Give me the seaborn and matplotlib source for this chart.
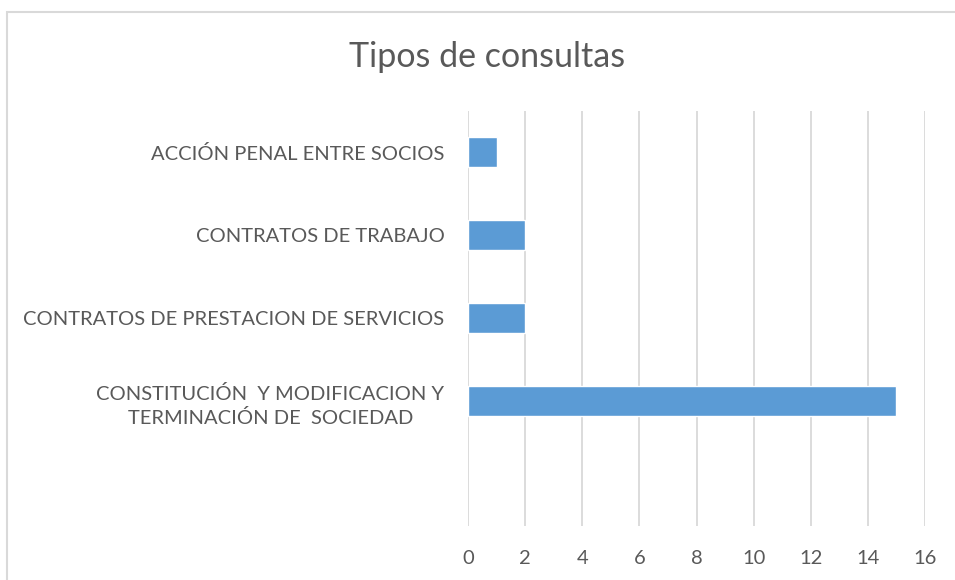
import matplotlib
matplotlib.use("Agg")
import matplotlib.pyplot as plt
import seaborn as sns
import pandas as pd
from matplotlib.patches import Rectangle

# Data (top to bottom), last slot is empty in the original
categorias = [
    "ACCIÓN PENAL ENTRE SOCIOS",
    "CONTRATOS DE TRABAJO",
    "CONTRATOS DE PRESTACION DE SERVICIOS",
    "CONSTITUCIÓN  Y MODIFICACION Y\nTERMINACIÓN DE  SOCIEDAD",
    " ",
]
valores = [1, 2, 2, 15, None]
x_ticks = [0, 2, 4, 6, 8, 10, 12, 14, 16]

sns.set_theme(style="white")
plt.rcParams['font.family'] = ['Lato', 'DejaVu Sans']

df = pd.DataFrame({"tipo": categorias, "n": valores})

fig = plt.figure(figsize=(9.55, 5.8), dpi=100)
ax = fig.add_axes([468 / 955, 1 - 525.5 / 580, (925 - 468) / 955, (525.5 - 110.5) / 580])

sns.barplot(data=df, x="n", y="tipo", order=categorias, orient="h",
            color="#5B9BD5", saturation=1, width=0.36, ax=ax)

ax.set_xlim(0, 16)
ax.set_xticks(x_ticks)
ax.set_xticklabels([str(t) for t in x_ticks])
ax.grid(axis="x", color="#D9D9D9", linewidth=1.3)
ax.set_axisbelow(True)
for s in ax.spines.values():
    s.set_visible(False)
ax.set_xlabel("")
ax.set_ylabel("")
ax.tick_params(axis="both", length=0, colors="#595959", labelsize=14.5)
ax.tick_params(axis="y", pad=17)
ax.tick_params(axis="x", pad=18)
for lbl in ax.get_yticklabels():
    lbl.set_multialignment("center")
    lbl.set_linespacing(1.4)

fig.text(487 / 955, 1 - 57 / 580, "Tipos de consultas", ha="center", va="center",
         fontsize=24.5, color="#595959")

# chart area border (cropped at right and bottom in the original)
fig.patches.append(Rectangle((7 / 955, -0.1), 1.2, 1 - 12 / 580 + 0.1,
                             transform=fig.transFigure, fill=False,
                             edgecolor="#D9D9D9", linewidth=1.5))

fig.savefig("out.png", dpi=100)
